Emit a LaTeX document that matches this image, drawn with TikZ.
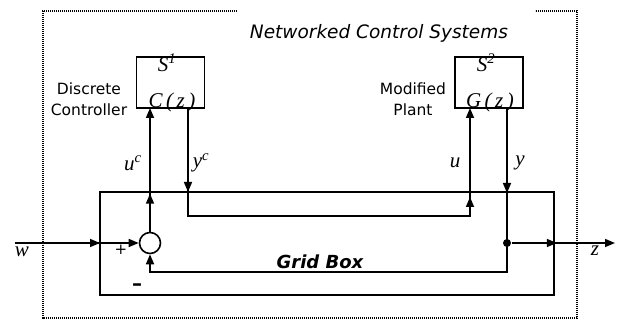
\documentclass[tikz,border=0pt]{standalone}
\usepackage{fontspec}
\setmainfont{DejaVu Sans}
\newfontfamily\serifvar{Liberation Serif}
\usetikzlibrary{arrows.meta,decorations.markings}
\begin{document}
\begin{tikzpicture}[x=1pt,y=-1pt,line width=1.6pt,
  tipend/.style={-{Triangle[length=10pt,width=8pt]}},
  blk/.style={draw,minimum width=68pt,minimum height=51pt,inner sep=0pt},
  lbl/.style={font=\fontsize{15.5}{21}\selectfont,align=center,inner sep=0pt},
  var/.style={font=\serifvar\itshape\fontsize{21}{21}\selectfont,inner sep=0pt},
  dotline/.style={line width=1.4pt,dash pattern=on 1.1pt off 0.9pt},
  midarrow/.style={postaction={decorate},decoration={markings,
     mark=at position #1 with {\arrow{Triangle[length=10pt,width=8pt]}}}},
  twoarrow/.style 2 args={postaction={decorate},decoration={markings,
     mark=at position #1 with {\arrow{Triangle[length=10pt,width=8pt]}},
     mark=at position #2 with {\arrow{Triangle[length=10pt,width=8pt]}}}},
]
\useasboundingbox (0,0) rectangle (624,320);

% outer dotted frame
\draw[dotline] (237,11) -- (43,11) -- (43,318) -- (577,318) -- (577,11) -- (535,11);
\node[font=\itshape\fontsize{18.5}{20}\selectfont,inner sep=0pt] (title) at (379,33) {Networked Control Systems};

% blocks
\node[blk] (s1) at (170.5,82.5) {};
\node[blk] (s2) at (489,82.5) {};
\node[var] (s1l) at (167,63) {S\textsuperscript{1}};
\node[var] (s2l) at (486,63) {S\textsuperscript{2}};
\node[var] (cz) at (172,102) {C\,(\,z\,)};
\node[var] (gz) at (490,102) {G\,(\,z\,)};
\node[lbl] (dc) at (89,99) {Discrete\\Controller};
\node[lbl] (mp) at (413,99) {Modified\\Plant};

% grid box
\node[draw,minimum width=454pt,minimum height=103pt,inner sep=0pt] (grid) at (327,243.5) {};
\node[font=\bfseries\itshape\fontsize{18}{18}\selectfont,anchor=base,inner sep=0pt] (gl) at (320,269) {Grid Box};

% summing junction and junction dot
\node[circle,draw,minimum size=21pt,inner sep=0pt] (sum) at (150,243) {};
\node[circle,fill,minimum size=8pt,inner sep=0pt] (dot) at (507,243) {};
\coordinate (win) at (15,243);
\coordinate (zout) at (615,243);
\coordinate (ycA) at (188,108);
\coordinate (ycB) at (188,216);
\coordinate (uB) at (470,216);
\coordinate (uA) at (470,108);
\coordinate (ucA) at (150,108);
\coordinate (yA) at (507,108);
\coordinate (yB) at (507,272);
\coordinate (fbB) at (150,272);

% connectors
\draw[tipend,midarrow=38pt] (sum.north) -- (ucA);
\draw[tipend,twoarrow={84pt}{409pt}] (ycA) -- (ycB) -- (uB) -- (uA);
\draw[tipend,midarrow=85pt] (yA) -- (yB) -- (fbB) -- (sum.south);
\draw[tipend,midarrow=85pt] (win) -- (sum.west);
\draw[tipend,midarrow=45pt] (dot) -- (zout);

% labels
\node[var] (ucl) at (133,163) {u\textsuperscript{c}};
\node[var] (ycl) at (201,163) {y\textsuperscript{c}};
\node[var] (ul) at (455,163) {u};
\node[var] (yl) at (520,163) {y};
\node[var] (wl) at (22,252) {w};
\node[var] (zl) at (595,251) {z};
\node[font=\fontsize{15}{15}\selectfont,inner sep=0pt] (plus) at (121,250) {+};
\node[font=\bfseries\fontsize{20}{20}\selectfont,inner sep=0pt] (minus) at (137,287) {–};
\end{tikzpicture}
\end{document}
